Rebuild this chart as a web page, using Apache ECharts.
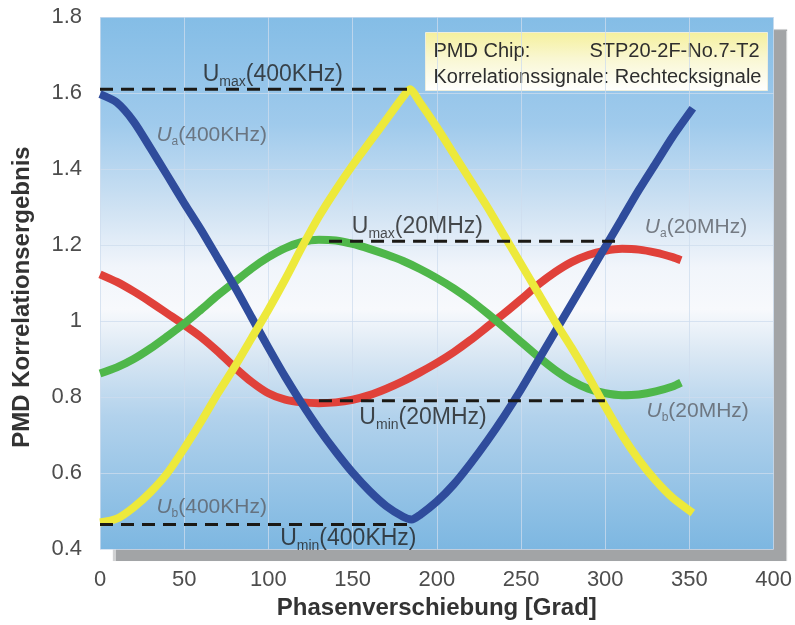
<!DOCTYPE html>
<html>
<head>
<meta charset="utf-8">
<script src="https://cdn.jsdelivr.net/npm/echarts@6/dist/echarts.min.js"></script>
<style>
  html, body { margin: 0; padding: 0; background: #ffffff; }
  #chart { width: 795px; height: 625px; }
</style>
</head>
<body>
<div id="chart"></div>
<script>
// Phase shift axis (degrees) and correlation axis tick labels
const xTickLabels = ['0', '50', '100', '150', '200', '250', '300', '350', '400'];
const yTickLabels = ['0.4', '0.6', '0.8', '1', '1.2', '1.4', '1.6', '1.8'];

// U_a(400KHz) - blue
const blueX = [0,10,20,30,40,50,60,70,80,90,100,110,120,130,140,150,160,170,180,185,190,200,210,220,230,240,250,260,270,280,290,300,310,320,330,340,352];
const blueY = [1.597,1.575,1.525,1.455,1.383,1.31,1.24,1.165,1.09,1.01,0.93,0.853,0.782,0.716,0.656,0.601,0.553,0.513,0.485,0.478,0.49,0.525,0.57,0.625,0.685,0.75,0.82,0.895,0.97,1.045,1.12,1.195,1.27,1.345,1.415,1.485,1.56];

// U_b(400KHz) - yellow
const yellowX = [0,10,20,30,40,50,60,70,80,90,100,110,120,130,140,150,160,170,180,184,190,200,210,220,230,240,250,260,270,280,290,300,310,320,330,340,352];
const yellowY = [0.47,0.48,0.51,0.55,0.60,0.665,0.735,0.81,0.88,0.955,1.03,1.11,1.195,1.275,1.345,1.41,1.47,1.53,1.59,1.61,1.575,1.51,1.44,1.37,1.30,1.225,1.15,1.075,1.0,0.93,0.855,0.775,0.70,0.635,0.58,0.535,0.495];

// U_a(20MHz) - red
const redX = [0,10,20,30,40,50,60,70,80,90,100,110,120,130,140,150,160,170,180,190,200,210,220,230,240,250,260,270,280,290,300,310,320,330,340,345];
const redY = [1.123,1.103,1.078,1.05,1.02,0.99,0.958,0.92,0.878,0.84,0.81,0.793,0.786,0.784,0.786,0.793,0.805,0.822,0.842,0.865,0.89,0.918,0.95,0.985,1.02,1.057,1.095,1.128,1.155,1.174,1.185,1.19,1.188,1.18,1.168,1.16];

// U_b(20MHz) - green
const greenX = [0,10,20,30,40,50,60,70,80,90,100,110,120,130,140,150,160,170,180,190,200,210,220,230,240,250,260,270,280,290,300,310,320,330,340,345];
const greenY = [0.862,0.878,0.90,0.928,0.96,0.993,1.03,1.068,1.103,1.138,1.168,1.192,1.208,1.214,1.212,1.203,1.19,1.175,1.158,1.137,1.113,1.086,1.055,1.02,0.983,0.945,0.907,0.872,0.843,0.822,0.81,0.805,0.807,0.815,0.828,0.838];

// Reference levels: [xStart, xEnd, level]
const umax400 = [0, 184, 1.61];
const umin400 = [0, 185, 0.465];
const umax20 = [136, 309, 1.21];
const umin20 = [130, 300, 0.79];

// Annotation texts: [x, y, symbol, subscript, suffix, style]
const notes = [
  [61, 1.648, 'U', 'max', '(400KHz)', 'dark'],
  [149.5, 1.248, 'U', 'max', '(20MHz)', 'dark'],
  [154, 0.746, 'U', 'min', '(20MHz)', 'dark'],
  [107, 0.427, 'U', 'min', '(400KHz)', 'dark'],
  [33.5, 1.49, 'U', 'a', '(400KHz)', 'grey'],
  [323.5, 1.248, 'U', 'a', '(20MHz)', 'grey'],
  [324.5, 0.762, 'U', 'b', '(20MHz)', 'grey'],
  [33.5, 0.511, 'U', 'b', '(400KHz)', 'grey']
];

const infoLine1Left = 'PMD Chip:';
const infoLine1Right = 'STP20-2F-No.7-T2';
const infoLine2 = 'Korrelationssignale: Rechtecksignale';

const FONT = '"Liberation Sans", Arial, Helvetica, sans-serif';

function pairs(xs, ys) { return xs.map((x, i) => [x, ys[i]]); }

function curve(name, xs, ys, color, z) {
  return {
    name: name, type: 'line', data: pairs(xs, ys), smooth: 0.25,
    showSymbol: false, symbol: 'none', z: z, silent: true,
    lineStyle: { color: color, width: 8, cap: 'butt', join: 'round' }
  };
}

function level(name, spec) {
  return {
    name: name, type: 'line', data: [[spec[0], spec[2]], [spec[1], spec[2]]],
    showSymbol: false, symbol: 'none', z: 10, silent: true,
    lineStyle: { color: '#1b1915', width: 3, type: [13, 8] }
  };
}

const chart = echarts.init(document.getElementById('chart'), null, { renderer: 'canvas' });

const bg = new echarts.graphic.LinearGradient(0, 0, 0, 1, [
  { offset: 0.00, color: '#84bde6' },
  { offset: 0.20, color: '#9fcaec' },
  { offset: 0.36, color: '#cfe2f3' },
  { offset: 0.47, color: '#f1f5fb' },
  { offset: 0.55, color: '#f7f9fc' },
  { offset: 0.63, color: '#dbe8f4' },
  { offset: 0.75, color: '#b2d2ec' },
  { offset: 1.00, color: '#7db7e1' }
]);

const option = {
  backgroundColor: '#ffffff',
  animation: false,
  textStyle: { fontFamily: FONT },
  grid: {
    left: 100, right: 18, top: 17, bottom: 70,
    show: true, backgroundColor: bg, borderWidth: 0,
    shadowColor: '#a2a4a6', shadowBlur: 1, shadowOffsetX: 13, shadowOffsetY: 12
  },
  xAxis: {
    type: 'value', min: 0, max: 400, interval: 50,
    axisLine: { show: false }, axisTick: { show: false },
    splitLine: { show: true, lineStyle: { color: 'rgba(205,220,238,0.75)', width: 1 } },
    axisLabel: {
      color: '#4d4d4d', fontSize: 22, margin: 20, fontFamily: FONT,
      formatter: v => xTickLabels[Math.round(v / 50)]
    },
    name: 'Phasenverschiebung [Grad]', nameLocation: 'middle', nameGap: 40,
    nameTextStyle: { color: '#333333', fontSize: 24, fontWeight: 'bold', fontFamily: FONT }
  },
  yAxis: {
    type: 'value', min: 0.4, max: 1.8, interval: 0.2,
    axisLine: { show: false }, axisTick: { show: false },
    splitLine: { show: true, lineStyle: { color: 'rgba(205,220,238,0.75)', width: 1 } },
    axisLabel: {
      color: '#4d4d4d', fontSize: 22, margin: 18, fontFamily: FONT,
      formatter: v => yTickLabels[Math.round((v - 0.4) / 0.2)]
    },
    name: 'PMD Korrelationsergebnis', nameLocation: 'middle', nameGap: 66, nameRotate: 90,
    nameTextStyle: { color: '#333333', fontSize: 24, fontWeight: 'bold', fontFamily: FONT, padding: [0, 28, 0, 0] }
  },
  graphic: [
    {
      type: 'group', left: 425, top: 32, z: 20,
      children: [
        {
          type: 'rect', shape: { x: 0, y: 0, width: 342, height: 58 },
          style: {
            fill: new echarts.graphic.LinearGradient(0, 0, 0, 1, [
              { offset: 0, color: '#f5f09c' },
              { offset: 0.45, color: '#f9f7d2' },
              { offset: 1, color: '#ffffff' }
            ]),
            stroke: '#eeeedd', lineWidth: 1
          }
        },
        { type: 'text', x: 8, y: 19, style: { text: infoLine1Left, fill: '#2e2e2e', font: '20px ' + FONT, textVerticalAlign: 'middle' } },
        { type: 'text', x: 334, y: 19, style: { text: infoLine1Right, fill: '#2e2e2e', font: '20px ' + FONT, textAlign: 'right', textVerticalAlign: 'middle' } },
        { type: 'text', x: 8, y: 45, style: { text: infoLine2, fill: '#2e2e2e', font: '20px ' + FONT, textVerticalAlign: 'middle' } }
      ]
    }
  ],
  series: [
    curve('U_a(20MHz)', redX, redY, '#e0413a', 2),
    curve('U_b(20MHz)', greenX, greenY, '#4fb74a', 3),
    curve('U_a(400KHz)', blueX, blueY, '#2f4c9c', 4),
    curve('U_b(400KHz)', yellowX, yellowY, '#ede93b', 5),
    level('Umax400', umax400),
    level('Umin400', umin400),
    level('Umax20', umax20),
    level('Umin20', umin20),
    {
      name: 'notes', type: 'scatter', symbolSize: 0, silent: true, z: 12,
      data: notes.map(n => ({ value: [n[0], n[1]], note: n })),
      label: {
        show: true, position: 'right', distance: 0,
        formatter: p => {
          const n = p.data.note;
          const k = n[5] === 'dark' ? 'd' : 'g';
          return '{' + k + 'u|' + n[2] + '}{' + k + 's|' + n[3] + '}{' + k + 't|' + n[4] + '}';
        },
        rich: {
          du: { fontSize: 23, color: '#1f1f1f', fontFamily: FONT, lineHeight: 26 },
          ds: { fontSize: 14, color: '#1f1f1f', fontFamily: FONT, lineHeight: 26, padding: [15, 0, 0, 0] },
          dt: { fontSize: 23, color: '#1f1f1f', fontFamily: FONT, lineHeight: 26 },
          gu: { fontSize: 21, color: '#5b5f66', fontFamily: FONT, fontStyle: 'italic', lineHeight: 24 },
          gs: { fontSize: 12, color: '#5b5f66', fontFamily: FONT, lineHeight: 24, padding: [13, 0, 0, 0] },
          gt: { fontSize: 21, color: '#5b5f66', fontFamily: FONT, lineHeight: 24 }
        }
      }
    }
  ]
};

chart.setOption(option);
</script>
</body>
</html>
